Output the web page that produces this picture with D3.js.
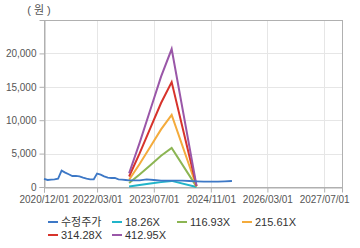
<!DOCTYPE html>
<html>
<head>
<meta charset="utf-8">
<script src="https://cdn.jsdelivr.net/npm/d3@7"></script>
<style>
  body { margin: 0; background: #fff; }
  svg { display: block; font-family: "Liberation Sans", Arial, "Noto Sans CJK KR", sans-serif; }
</style>
</head>
<body>
<svg id="chart" width="360" height="248"></svg>
<script>
// adjusted price (수정주가)
var priceDates = ['2020-12-01','2021-01-01','2021-02-01','2021-03-01','2021-04-01','2021-05-01','2021-06-01',
  '2021-07-01','2021-08-01','2021-09-01','2021-10-01','2021-11-01','2021-12-01','2022-01-01','2022-02-01',
  '2022-03-01','2022-04-01','2022-05-01','2022-06-01','2022-07-01','2022-08-01','2022-09-01','2022-10-01',
  '2022-11-01','2022-12-01','2023-01-01','2023-03-01','2023-05-01','2023-07-01','2023-09-01','2023-11-01',
  '2024-01-01','2024-03-01','2024-05-01','2024-07-01','2024-09-01','2024-11-01','2025-01-01','2025-03-01','2025-05-01'];
var priceValues = [1200,1050,1100,1150,1250,2450,2150,1900,1650,1650,1600,1400,1250,1150,1150,
  2000,1850,1600,1400,1350,1350,1150,1100,1050,1000,1000,1000,1150,1050,950,950,
  950,950,900,850,800,800,800,850,900];

// PER band lines
var bandDates = ['2022-12-01','2023-03-01','2023-06-01','2023-09-01','2023-12-01','2024-07-01'];
var band1 = [91, 290, 510, 730, 913, 9];          // 18.26X
var band2 = [585, 1870, 3270, 4680, 5850, 60];    // 116.93X
var band3 = [1080, 3450, 6040, 8620, 10780, 110]; // 215.61X
var band4 = [1570, 5030, 8800, 12570, 15710, 160];// 314.28X
var band5 = [2060, 6610, 11560, 16520, 20650, 210];// 412.95X

var seriesNames = ['수정주가', '18.26X', '116.93X', '215.61X', '314.28X', '412.95X'];
var colors = ['#3d78c6', '#21b4c9', '#8cb553', '#f4ab3c', '#d7332b', '#9a57a8'];

var xTickLabels = ['2020/12/01', '2022/03/01', '2023/07/01', '2024/11/01', '2026/03/01', '2027/07/01'];
var yTicks = [0, 5000, 10000, 15000, 20000];

var parse = d3.timeParse('%Y-%m-%d');
var parseTick = d3.timeParse('%Y/%m/%d');

var margin = {top: 20, right: 18, bottom: 61, left: 44};
var width = 360, height = 248;
var svg = d3.select('#chart');

var x = d3.scaleTime()
  .domain([parse('2020-12-01'), parse('2027-12-01')])
  .range([margin.left, width - margin.right]);
var y = d3.scaleLinear()
  .domain([0, 25000])
  .range([height - margin.bottom, margin.top]);

// grid
var grid = svg.append('g');
grid.selectAll('.hg').data(yTicks.slice(1)).enter().append('line')
  .attr('x1', margin.left).attr('x2', width - margin.right)
  .attr('y1', function (d) { return Math.round(y(d)) + 0.5; })
  .attr('y2', function (d) { return Math.round(y(d)) + 0.5; })
  .attr('stroke', '#e6e6e6');
grid.selectAll('.vg').data(xTickLabels.slice(1)).enter().append('line')
  .attr('x1', function (d) { return Math.round(x(parseTick(d))) + 0.5; })
  .attr('x2', function (d) { return Math.round(x(parseTick(d))) + 0.5; })
  .attr('y1', margin.top).attr('y2', height - margin.bottom)
  .attr('stroke', '#e6e6e6');

// frame
svg.append('rect')
  .attr('x', margin.left + 0.5).attr('y', margin.top + 0.5)
  .attr('width', width - margin.left - margin.right)
  .attr('height', height - margin.top - margin.bottom)
  .attr('fill', 'none').attr('stroke', '#b0b0b0');

// axes
var yAxis = svg.append('g')
  .attr('transform', 'translate(' + (margin.left + 0.5) + ',0)')
  .call(d3.axisLeft(y).tickValues(yTicks).tickSize(5).tickPadding(3).tickFormat(d3.format(',')));
var xAxis = svg.append('g')
  .attr('transform', 'translate(0,' + (height - margin.bottom + 0.5) + ')')
  .call(d3.axisBottom(x).tickValues(xTickLabels.map(parseTick)).tickSize(5).tickPadding(3)
    .tickFormat(d3.timeFormat('%Y/%m/%d')));
[yAxis, xAxis].forEach(function (a) {
  a.select('.domain').attr('stroke', '#b0b0b0');
  a.selectAll('.tick line').attr('stroke', '#b0b0b0');
  a.selectAll('.tick text').attr('fill', '#555').style('font-size', '10px');
});

svg.append('text')
  .attr('x', 39).attr('y', 14).attr('text-anchor', 'middle')
  .attr('fill', '#555').style('font-size', '11px')
  .text('( 원 )');

// lines
var line = d3.line()
  .x(function (d) { return x(d[0]); })
  .y(function (d) { return y(d[1]); });

var seriesData = [
  priceDates.map(function (d, i) { return [parse(d), priceValues[i]]; })
];
[band1, band2, band3, band4, band5].forEach(function (b) {
  seriesData.push(bandDates.map(function (d, i) { return [parse(d), b[i]]; }));
});

var lineGroup = svg.append('g');
// draw bands first, price on top
[1, 2, 3, 4, 5, 0].forEach(function (i) {
  lineGroup.append('path')
    .datum(seriesData[i])
    .attr('d', line)
    .attr('fill', 'none')
    .attr('stroke', colors[i])
    .attr('stroke-width', i === 0 ? 1.8 : 2);
});

// legend
var legendPos = [[48, 222], [112, 222], [177, 222], [242, 222], [48, 235], [112, 235]];
var legend = svg.append('g');
seriesNames.forEach(function (name, i) {
  var g = legend.append('g').attr('transform', 'translate(' + legendPos[i][0] + ',' + legendPos[i][1] + ')');
  g.append('line').attr('x1', 0).attr('x2', 10).attr('y1', 0).attr('y2', 0)
    .attr('stroke', colors[i]).attr('stroke-width', 2);
  g.append('text').attr('x', 13).attr('y', 4)
    .attr('fill', '#333').style('font-size', '11px')
    .text(name);
});
</script>
</body>
</html>
